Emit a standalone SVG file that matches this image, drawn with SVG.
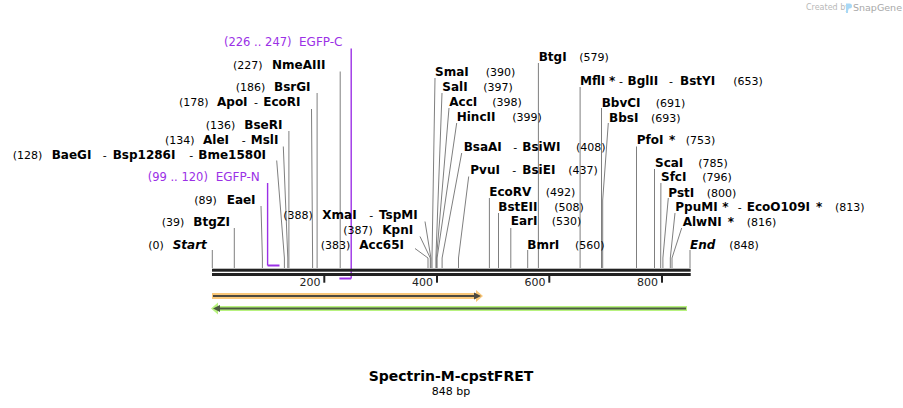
<svg xmlns="http://www.w3.org/2000/svg" width="903" height="408" viewBox="0 0 903 408">
<style>
text{font-family:"DejaVu Sans",Verdana,sans-serif;fill:#000}
.n{font-size:11px}
.b{font-size:12px;font-weight:bold}
.bi{font-size:12px;font-weight:bold;font-style:italic}
.d{font-size:11px}
.pn{font-size:11.5px;fill:#9b30e6}
.pl{font-size:12px;fill:#9b30e6}
.c{fill:none;stroke:#7f7f7f;stroke-width:1}
.pf{fill:none;stroke:#9b30e6}
.tk{font-size:11px;fill:#222}
</style>
<rect width="903" height="408" fill="#fff"/>

<g id="logo">
<text x="806" y="10" style="font-size:8px;fill:#b8b8b8">Created by</text>
<path d="M846 3.5 h3.5 a2.5 2.5 0 0 1 0 5 h-1.5 v4.5 h-2 z" fill="#a9d8f5"/>
<text x="853" y="11" style="font-size:9.5px;fill:#a8a8a8">SnapGene</text>
</g>

<g id="connectors">
<path class="c" d="M212.3 250V268"/>
<path class="c" d="M234.3 228V268"/>
<path class="c" d="M261 206L262.4 258V268"/>
<path class="c" d="M276.7 160.5L284.4 258V268"/>
<path class="c" d="M283.3 146.5L287.8 258V268"/>
<path class="c" d="M288.9 131V268"/>
<path class="c" d="M311.5 109L312.6 258V268"/>
<path class="c" d="M317.1 93V268"/>
<path class="c" d="M340.2 71.5V268"/>
<path class="c" d="M415 248.5L428 258V268"/>
<path class="c" d="M420 236.5L430.3 258V268"/>
<path class="c" d="M425 221.5L430.9 258V268"/>
<path class="c" d="M435 78L432 258V268"/>
<path class="c" d="M442 93L435.9 258V268"/>
<path class="c" d="M449 108L436.5 258V268"/>
<path class="c" d="M456.7 123L437.1 258V268"/>
<path class="c" d="M461.7 153L442.1 258V268"/>
<path class="c" d="M468.7 176.5L458.5 258V268"/>
<path class="c" d="M489.4 198V268"/>
<path class="c" d="M498.5 213V268"/>
<path class="c" d="M510.8 228V268"/>
<path class="c" d="M527.7 250V268"/>
<path class="c" d="M538.4 63V268"/>
<path class="c" d="M580.1 87V268"/>
<path class="c" d="M601.5 108V268"/>
<path class="c" d="M608.3 123L602.7 200V268"/>
<path class="c" d="M636.5 146.5V268"/>
<path class="c" d="M654.5 169V268"/>
<path class="c" d="M660.9 183L660.7 258V268"/>
<path class="c" d="M668.3 198L662.9 258V268"/>
<path class="c" d="M675 213L670.3 258V268"/>
<path class="c" d="M681.7 228L672 258V268"/>
<path class="c" d="M690 250V268"/>
<path class="pf" stroke-width="1.4" d="M267.6 183V265.5"/>
<path class="pf" stroke-width="2" d="M267.6 265.5H279.5"/>
<path class="pf" stroke-width="1.4" d="M351.2 48.5V278.5"/>
<path class="pf" stroke-width="2" d="M339.4 278.5H351.2"/>
</g>

<g id="sequence">
<rect x="212" y="268.7" width="478.7" height="3" fill="#222"/>
<rect x="212" y="273" width="478.7" height="3" fill="#222"/>
<rect x="323.3" y="276" width="2" height="6.7" fill="#222"/>
<rect x="436" y="276" width="2" height="6.7" fill="#222"/>
<rect x="548.3" y="276" width="2" height="6.7" fill="#222"/>
<rect x="661" y="276" width="2" height="6.7" fill="#222"/>
<text class="tk" x="320.5" y="286" text-anchor="end">200</text>
<text class="tk" x="433" y="286" text-anchor="end">400</text>
<text class="tk" x="545.5" y="286" text-anchor="end">600</text>
<text class="tk" x="658" y="286" text-anchor="end">800</text>
</g>

<g id="feature-orange">
<path d="M212 293H476V290L483 296L476 302V299H212Z" fill="#fac87a"/>
<path d="M213 296H476" stroke="#4d4a40" stroke-width="2.2"/>
<path d="M474 292.5L481 296L474 299.5Z" fill="#4d4a40"/>
</g>
<g id="feature-green">
<path d="M687 306H218V302.5L211 308.5L218 314.5V311H687Z" fill="#b8f27f"/>
<path d="M686 308.5H218" stroke="#4b5a40" stroke-width="2.2"/>
<path d="M220 305L213 308.5L220 312Z" fill="#4b5a40"/>
</g>

<g id="EGFP-C"><text class="pn" x="224" y="46.4">(226 .. 247)</text><text class="pl" x="299" y="46.4">EGFP-C</text></g>
<g id="NmeAIII"><text class="n" x="233" y="69.4">(227)</text><text class="b" x="272" y="69.4">NmeAIII</text></g>
<g id="BsrGI"><text class="n" x="235.7" y="91.1">(186)</text><text class="b" x="274" y="91.1">BsrGI</text></g>
<g id="ApoI-EcoRI"><text class="n" x="179" y="106.1">(178)</text><text class="b" x="217" y="106.1">ApoI</text><text class="d" x="254" y="106.1">-</text><text class="b" x="263.3" y="106.1">EcoRI</text></g>
<g id="BseRI"><text class="n" x="205.7" y="129.4">(136)</text><text class="b" x="244.3" y="129.4">BseRI</text></g>
<g id="AleI-MslI"><text class="n" x="165" y="144.4">(134)</text><text class="b" x="203" y="144.4">AleI</text><text class="d" x="241.7" y="144.4">-</text><text class="b" x="250.7" y="144.4">MslI</text></g>
<g id="BaeGI"><text class="n" x="12.7" y="158.7">(128)</text><text class="b" x="51.7" y="158.7">BaeGI</text><text class="d" x="102.7" y="158.7">-</text><text class="b" x="112.7" y="158.7">Bsp1286I</text><text class="d" x="189.3" y="158.7">-</text><text class="b" x="198.3" y="158.7">Bme1580I</text></g>
<g id="EGFP-N"><text class="pn" x="147.7" y="181.1">(99 .. 120)</text><text class="pl" x="215.7" y="181.1">EGFP-N</text></g>
<g id="EaeI"><text class="n" x="194.3" y="204.4">(89)</text><text class="b" x="226.7" y="204.4">EaeI</text></g>
<g id="BtgZI"><text class="n" x="161.7" y="226.1">(39)</text><text class="b" x="193.3" y="226.1">BtgZI</text></g>
<g id="Start"><text class="n" x="148.3" y="248.7">(0)</text><text class="bi" x="172.7" y="248.7">Start</text></g>
<g id="XmaI-TspMI"><text class="n" x="283.3" y="218.7">(388)</text><text class="b" x="322.3" y="218.7">XmaI</text><text class="d" x="369.3" y="218.7">-</text><text class="b" x="379" y="218.7">TspMI</text></g>
<g id="KpnI"><text class="n" x="343.3" y="234.4">(387)</text><text class="b" x="382.3" y="234.4">KpnI</text></g>
<g id="Acc65I"><text class="n" x="320.7" y="249.4">(383)</text><text class="b" x="359.3" y="249.4">Acc65I</text></g>

<g id="BtgI"><text class="b" x="538.7" y="61.1">BtgI</text><text class="n" x="579.3" y="61.1">(579)</text></g>
<g id="SmaI"><text class="b" x="435" y="76.4">SmaI</text><text class="n" x="485.7" y="76.4">(390)</text></g>
<g id="SalI"><text class="b" x="442.3" y="91.1">SalI</text><text class="n" x="483.3" y="91.1">(397)</text></g>
<g id="AccI"><text class="b" x="449.3" y="106.4">AccI</text><text class="n" x="492.3" y="106.4">(398)</text></g>
<g id="HincII"><text class="b" x="456.7" y="121.1">HincII</text><text class="n" x="512.3" y="121.1">(399)</text></g>
<g id="BsaAI-BsiWI"><text class="b" x="463.7" y="151.1">BsaAI</text><text class="d" x="513.3" y="151.1">-</text><text class="b" x="522.3" y="151.1">BsiWI</text><text class="n" x="576" y="151.1">(408)</text></g>
<g id="PvuI-BsiEI"><text class="b" x="470.3" y="174.4">PvuI</text><text class="d" x="512.3" y="174.4">-</text><text class="b" x="522.3" y="174.4">BsiEI</text><text class="n" x="568.3" y="174.4">(437)</text></g>
<g id="EcoRV"><text class="b" x="489.3" y="196.1">EcoRV</text><text class="n" x="545.7" y="196.1">(492)</text></g>
<g id="BstEII"><text class="b" x="498.3" y="211.1">BstEII</text><text class="n" x="554.3" y="211.1">(508)</text></g>
<g id="EarI"><text class="b" x="510.7" y="225.4">EarI</text><text class="n" x="551.7" y="225.4">(530)</text></g>
<g id="BmrI"><text class="b" x="527.3" y="249.4">BmrI</text><text class="n" x="575" y="249.4">(560)</text></g>
<g id="MflI-BglII-BstYI"><text class="b" x="580" y="85.1">MflI</text><text class="b" x="609" y="85.1">*</text><text class="d" x="619" y="85.1">-</text><text class="b" x="627.5" y="85.1">BglII</text><text class="d" x="669" y="85.1">-</text><text class="b" x="680" y="85.1">BstYI</text><text class="n" x="733.3" y="85.1">(653)</text></g>
<g id="BbvCI"><text class="b" x="601.7" y="107.1">BbvCI</text><text class="n" x="655.7" y="107.1">(691)</text></g>
<g id="BbsI"><text class="b" x="609" y="121.7">BbsI</text><text class="n" x="651" y="121.7">(693)</text></g>
<g id="PfoI"><text class="b" x="636.7" y="144.4">PfoI</text><text class="b" x="669" y="144.4">*</text><text class="n" x="685.7" y="144.4">(753)</text></g>
<g id="ScaI"><text class="b" x="655" y="167.1">ScaI</text><text class="n" x="698.3" y="167.1">(785)</text></g>
<g id="SfcI"><text class="b" x="661" y="181.1">SfcI</text><text class="n" x="702.3" y="181.1">(796)</text></g>
<g id="PstI"><text class="b" x="668.3" y="196.7">PstI</text><text class="n" x="706.7" y="196.7">(800)</text></g>
<g id="PpuMI-EcoO109I"><text class="b" x="675.3" y="211.1">PpuMI</text><text class="b" x="722.3" y="211.1">*</text><text class="d" x="737.7" y="211.1">-</text><text class="b" x="746.7" y="211.1">EcoO109I</text><text class="b" x="816" y="211.1">*</text><text class="n" x="835" y="211.1">(813)</text></g>
<g id="AlwNI"><text class="b" x="682.7" y="226.1">AlwNI</text><text class="b" x="727.7" y="226.1">*</text><text class="n" x="746.7" y="226.1">(816)</text></g>
<g id="End"><text class="bi" x="690" y="249.4">End</text><text class="n" x="729.3" y="249.4">(848)</text></g>

<g id="title">
<text x="451" y="381" text-anchor="middle" style="font-size:14px;font-weight:bold">Spectrin-M-cpstFRET</text>
<text x="451" y="395" text-anchor="middle" style="font-size:11px">848 bp</text>
</g>
</svg>
